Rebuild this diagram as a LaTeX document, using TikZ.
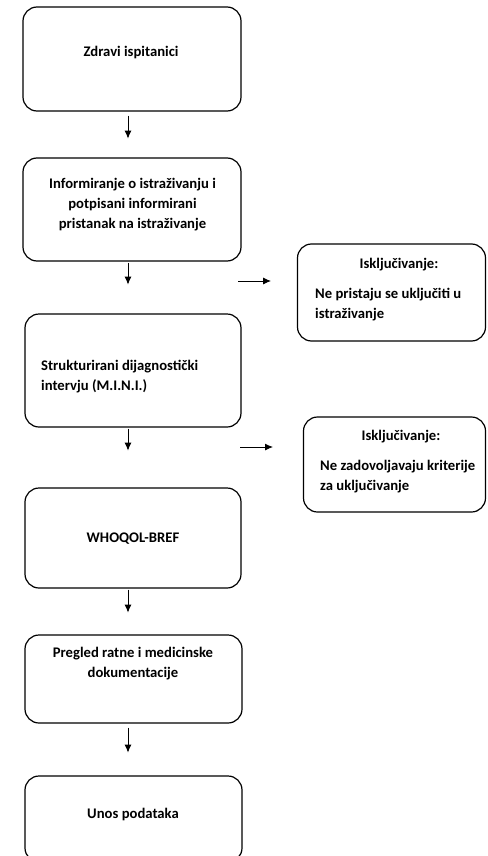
\documentclass[tikz,border=0pt]{standalone}
\usepackage{fontspec}
\setmainfont{Carlito}
\usetikzlibrary{arrows.meta}
\tikzset{
  box/.style={draw,line width=1.2pt,rounded corners=14pt,inner sep=0pt},
  txt/.style={font=\fontsize{14.67}{20}\selectfont\bfseries,inner sep=0pt},
  arr/.style={-{Latex[length=8pt,width=7pt]},line width=0.9pt}
}
\begin{document}
\begin{tikzpicture}[x=1pt,y=-1pt]
        \useasboundingbox (0,0) rectangle (487,856);
        \begin{scope}
            \node[box,minimum width=218pt,minimum height=104pt] (zdravi) at (132,59) {};
            \node[box,minimum width=218pt,minimum height=103pt] (info) at (132,209.5) {};
            \node[box,minimum width=216pt,minimum height=113pt] (mini) at (133,370.5) {};
            \node[box,minimum width=216pt,minimum height=100pt] (whoqol) at (133,538) {};
            \node[box,minimum width=217pt,minimum height=88pt] (pregled) at (133.5,679) {};
            \node[box,minimum width=217pt,minimum height=86pt] (unos) at (133.5,819) {};
            \node[txt] (zdravitxt) at (131,53) {Zdravi ispitanici};
            \node[txt,align=center] (infotxt) at (132.5,205) {Informiranje o istraživanju i\\potpisani informirani\\pristanak na istraživanje};
            \node[txt,align=left,anchor=west] (minitxt) at (41,376.5) {Strukturirani dijagnostički\\intervju (M.I.N.I.)};
            \node[txt] (whoqoltxt) at (133,539) {WHOQOL-BREF};
            \node[txt,align=center] (pregledtxt) at (133,664) {Pregled ratne i medicinske\\dokumentacije};
            \node[txt] (unostxt) at (133,814) {Unos podataka};
        \end{scope}
        \begin{scope}
            \node[box,minimum width=188pt,minimum height=97pt] (iskl1) at (391.5,292.5) {};
            \node[box,minimum width=182pt,minimum height=95pt] (iskl2) at (394.5,464.5) {};
            \node[txt] (iskl1naslov) at (399,265) {Isključivanje:};
            \node[txt,align=left,anchor=west] (iskl1txt) at (315,304.5) {Ne pristaju se uključiti u\\istraživanje};
            \node[txt] (iskl2naslov) at (401,437) {Isključivanje:};
            \node[txt,align=left,anchor=west] (iskl2txt) at (320,477) {Ne zadovoljavaju kriterije\\za uključivanje};
        \end{scope}
        \coordinate (h1) at (238,281);
        \coordinate (h2) at (240,447);
        \draw[arr] ([xshift=-4pt,yshift=-4pt]zdravi.south) -- ++(0,23);
        \draw[arr] ([xshift=-4pt,yshift=-1pt]info.south) -- ++(0,22);
        \draw[arr] ([xshift=-5pt,yshift=-1pt]mini.south) -- ++(0,22);
        \draw[arr] ([xshift=-5pt,yshift=-1pt]whoqol.south) -- ++(0,23);
        \draw[arr] ([xshift=-5.5pt,yshift=-4pt]pregled.south) -- ++(0,25);
        \draw[arr] (h1) -- ++(33,0);
        \draw[arr] (h2) -- ++(33,0);
    \end{tikzpicture}
\end{document}
